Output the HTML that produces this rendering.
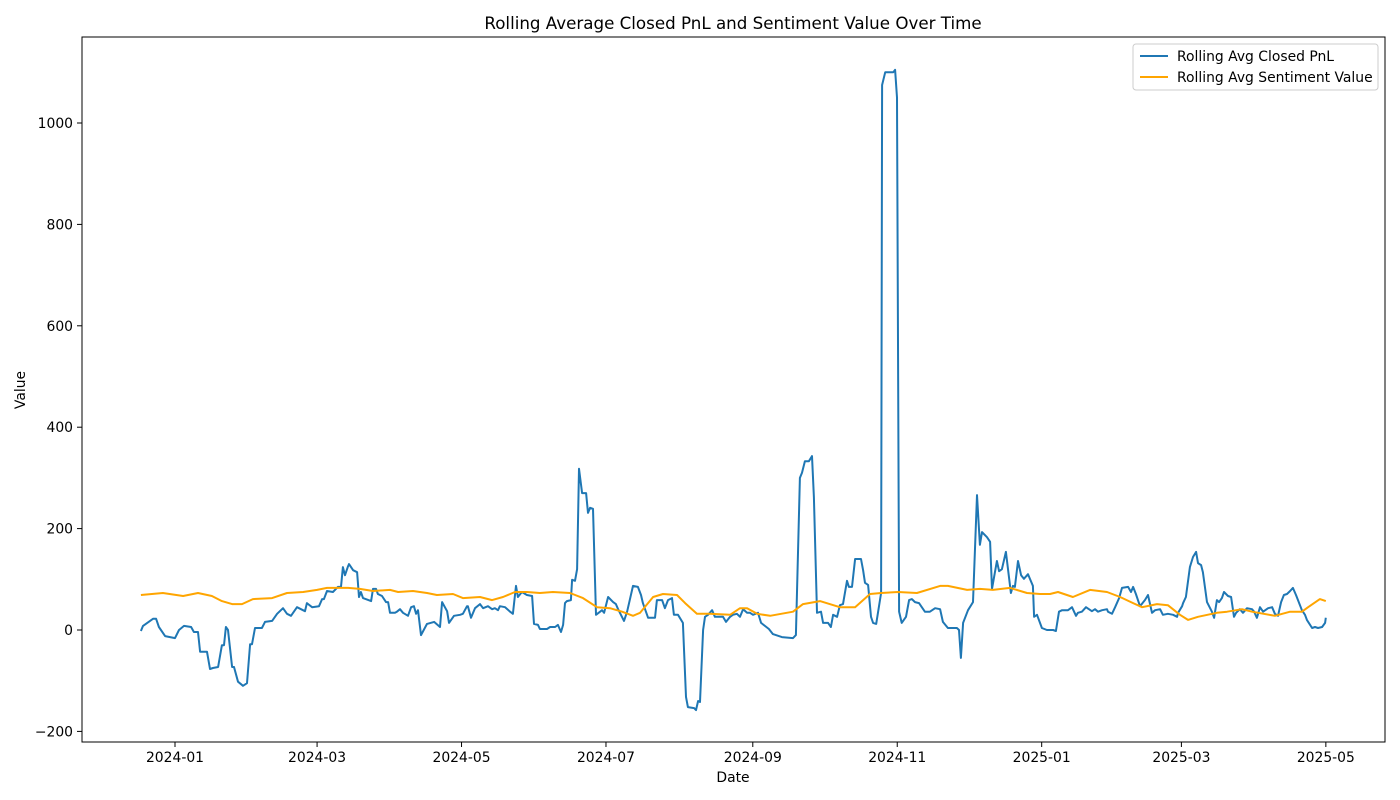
<!DOCTYPE html>
<html><head><meta charset="utf-8"><title>Rolling Average Chart</title>
<style>
html,body{margin:0;padding:0;background:#fff;}
svg{display:block;font-family:"DejaVu Sans","Liberation Sans",sans-serif;}
</style></head>
<body>
<svg id="chart" width="1400" height="800" viewBox="0 0 1400 800">
  <rect x="0" y="0" width="1400" height="800" fill="#fff"/>
  <text x="733" y="29" font-size="16.7" text-anchor="middle" fill="#000">Rolling Average Closed PnL and Sentiment Value Over Time</text>
  <g id="xticks"></g>
  <g id="yticks"></g>
  <g id="series"></g>
  <rect x="82" y="37" width="1303" height="705" fill="none" stroke="#000" stroke-width="1"/>
  <text x="733" y="782" font-size="13.9" text-anchor="middle">Date</text>
  <text x="25" y="390" font-size="13.9" text-anchor="middle" transform="rotate(-90 25 390)">Value</text>
  <g>
    <rect x="1133" y="44" width="245" height="46" rx="3" fill="#fff" fill-opacity="0.8" stroke="#ccc"/>
    <g>
      <line x1="1140" y1="56" x2="1168" y2="56" stroke="#1f77b4" stroke-width="2"/>
      <text x="1177" y="61" font-size="13.9">Rolling Avg Closed PnL</text>
    </g>
    <g>
      <line x1="1140" y1="77" x2="1168" y2="77" stroke="#ffa500" stroke-width="2"/>
      <text x="1177" y="82" font-size="13.9">Rolling Avg Sentiment Value</text>
    </g>
  </g>
</svg>
<script>
// days since 2024-01-01
const pnlDays = [-14.4,-13.5,-9.3,-8.0,-6.8,-4.2,0,1.7,3.8,6.8,8.0,9.7,10.6,13.5,14.8,16.0,18.2,19.8,20.7,21.5,22.4,24.1,24.9,26.6,28.7,30.4,31.7,32.5,33.8,36.7,38.0,41.0,43.1,45.6,47.3,49.0,51.5,54.9,55.7,57.9,60.8,62.1,62.9,64.2,66.7,68.8,70.1,70.9,71.8,73.1,73.5,75.2,76.9,77.7,78.5,79.4,82.8,83.6,84.9,85.7,87.4,89.1,90.0,90.8,92.9,93.7,95.0,96.3,98.4,99.7,100.9,101.8,102.6,103.9,106.4,109.4,111.9,112.8,114.9,115.7,117.8,120.4,121.6,123.3,123.7,125.0,126.7,128.8,130.1,132.2,133.9,135.1,136.4,137.2,139.4,141.5,142.7,144.0,144.8,146.5,148.6,150.8,151.6,153.3,154.1,157.1,158.4,160.5,161.7,163.0,163.9,164.7,165.5,167.2,167.7,168.9,169.8,170.6,171.9,173.6,174.4,175.3,176.5,177.8,179.5,180.3,181.2,182.9,185.0,186.2,187.1,189.6,190.9,193.4,195.5,196.8,197.6,199.8,202.7,203.5,205.7,206.9,208.2,209.9,210.7,212.4,214.5,215.8,216.6,219.2,220.0,220.9,221.7,223.0,223.8,225.1,226.8,228.0,229.3,231.4,232.7,234.4,235.6,237.3,238.6,239.9,241.6,242.8,244.1,246.2,247.5,249.1,250.8,252.5,256.3,261.0,262.2,263.9,264.8,266.0,267.7,269.0,269.8,271.1,272.8,273.7,275.8,277.0,277.9,279.6,280.8,282.1,283.8,284.6,285.9,287.2,289.7,290.6,291.4,292.7,293.9,294.8,296.1,298.2,298.6,299.9,303.3,304.1,304.9,305.8,306.9,308.7,310.0,311.2,312.5,314.2,316.7,318.8,321.0,323.1,324.3,326.4,330.2,331.1,331.9,332.8,334.9,337.0,338.7,339.9,340.8,342.9,344.2,345.0,347.1,348.0,349.2,350.9,353.0,353.9,354.7,356.0,357.3,358.5,360.2,362.3,362.8,364.0,366.1,368.2,370.8,372.0,373.3,374.6,377.1,378.8,380.5,381.3,383.0,384.7,387.2,388.5,389.8,391.5,393.6,394.0,395.7,397.0,398.7,399.9,402.5,403.7,404.6,405.8,407.5,409.6,410.9,412.6,413.9,416.0,417.2,419.3,421.5,423.2,423.6,425.3,425.7,426.9,428.6,429.9,431.2,432.0,433.3,434.1,435.8,437.9,438.8,440.0,440.9,442.1,443.0,444.7,446.0,447.2,448.1,449.7,451.0,452.7,454.8,455.7,456.9,458.2,459.5,461.6,463.3,464.5,465.8,467.1,468.3,469.6,470.9,472.1,473.4,475.9,477.2,478.0,480.2,481.4,482.7,484.4,485.7,486.0];
const pnlValues = [-2,8,22,22,6,-12,-16,0,8,6,-4,-4,-43,-43,-77,-75,-73,-30,-30,6,0,-73,-73,-102,-110,-105,-28,-28,4,4,16,18,32,43,32,28,45,37,53,45,47,61,61,77,75,85,85,124,108,126,130,118,114,65,75,63,57,81,81,71,67,55,55,34,34,36,41,34,28,45,47,32,39,-10,12,16,6,55,37,14,28,30,32,47,47,24,43,51,43,47,41,43,39,47,45,36,32,87,65,75,69,67,12,10,2,2,6,6,10,-4,10,53,57,59,99,97,120,318,270,270,231,241,239,30,36,39,34,65,55,51,41,18,36,87,85,69,53,24,24,59,59,43,59,63,30,30,14,-132,-152,-154,-158,-140,-142,0,26,30,39,26,26,26,16,26,30,32,26,41,34,34,30,34,14,8,2,-8,-14,-16,-10,300,310,333,333,343,262,34,36,14,14,6,30,26,49,51,97,85,85,140,140,118,93,89,26,14,12,73,1075,1100,1100,1105,1050,36,14,26,59,61,55,53,36,36,43,41,16,4,4,0,-55,14,39,55,266,168,193,183,174,81,136,116,120,154,73,87,85,136,108,101,110,87,26,30,4,0,0,-2,36,39,39,45,28,34,36,45,37,41,36,39,41,36,32,45,63,83,85,75,85,71,47,59,69,34,39,41,30,32,30,26,34,47,53,65,124,144,154,132,128,114,55,36,24,59,55,63,75,67,65,26,34,41,34,43,41,36,24,45,36,43,45,32,28,55,69,71,77,83,69,39,30,20,4,6,4,6,14,24,24];
const sentDays = [-14.4,-5.1,3.4,9.7,15.6,19.8,24.1,28.3,32.9,41.0,47.3,54.1,60.0,64.2,73.1,78.1,83.6,90.8,94.2,100.5,106.4,110.6,117.4,121.6,128.8,133.9,138.5,143.6,148.6,154.1,159.6,166.8,172.3,178.2,183.7,188.8,193.4,196.4,201.9,206.1,212.0,215.4,220.4,225.9,234.4,238.6,241.6,245.8,251.3,261.0,265.2,272.4,280.8,287.2,293.5,298.2,305.3,313.3,323.1,326.4,334.5,339.9,345.4,352.6,359.8,365.3,369.5,372.9,379.2,386.4,393.6,399.1,404.6,408.4,414.7,419.3,424.4,427.8,432.0,440.0,444.3,450.6,454.8,464.5,470.9,475.9,478.5,483.5,486.0];
const sentValues = [69,73,67,73,67,57,51,51,61,63,73,75,79,83,83,81,77,79,75,77,73,69,71,63,65,59,65,75,75,73,75,73,63,45,43,36,28,34,65,71,69,53,32,32,30,43,43,32,28,36,51,57,45,45,71,73,75,73,87,87,79,81,79,83,73,71,71,75,65,79,75,65,53,45,51,49,30,20,26,34,36,41,36,28,36,36,45,61,57];
const yTickValues = [-200,0,200,400,600,800,1000];
const yTickLabels = ["\u2212200","0","200","400","600","800","1000"];
const xTickDays = [0,60,121,182,244,305,366,425,486];
const xTickLabels = ["2024-01","2024-03","2024-05","2024-07","2024-09","2024-11","2025-01","2025-03","2025-05"];

const NS = "http://www.w3.org/2000/svg";
function xScale(d){ return 175 + d * 2.368; }
function yScale(v){ return 630 - v * 0.507; }

const xg = document.getElementById('xticks');
xTickDays.forEach((d,i)=>{
  const x = xScale(d);
  const t = document.createElementNS(NS,'line');
  t.setAttribute('x1',x); t.setAttribute('x2',x); t.setAttribute('y1',742); t.setAttribute('y2',747);
  t.setAttribute('stroke','#000');
  
  
  xg.appendChild(t);
  const tx = document.createElementNS(NS,'text');
  tx.setAttribute('x',x); tx.setAttribute('y',762); tx.setAttribute('font-size','13.9'); tx.setAttribute('text-anchor','middle');
  tx.textContent = xTickLabels[i];
  
  
  xg.appendChild(tx);
});
const yg = document.getElementById('yticks');
yTickValues.forEach((v,i)=>{
  const y = yScale(v);
  const t = document.createElementNS(NS,'line');
  t.setAttribute('x1',77); t.setAttribute('x2',82); t.setAttribute('y1',y); t.setAttribute('y2',y);
  t.setAttribute('stroke','#000');
  
  
  yg.appendChild(t);
  const tx = document.createElementNS(NS,'text');
  tx.setAttribute('x',73); tx.setAttribute('y',y+5); tx.setAttribute('font-size','13.9'); tx.setAttribute('text-anchor','end');
  tx.textContent = yTickLabels[i];
  
  
  yg.appendChild(tx);
});
const sg = document.getElementById('series');
function addLine(days, vals, color, name){
  const p = document.createElementNS(NS,'polyline');
  p.setAttribute('points', days.map((d,i)=>xScale(d).toFixed(1)+','+yScale(vals[i]).toFixed(1)).join(' '));
  p.setAttribute('fill','none'); p.setAttribute('stroke',color); p.setAttribute('stroke-width','2');
  p.setAttribute('stroke-linejoin','round');
  
  
  sg.appendChild(p);
}
addLine(pnlDays, pnlValues, '#1f77b4', 'pnl-line');
addLine(sentDays, sentValues, '#ffa500', 'sentiment-line');
</script>
</body></html>
